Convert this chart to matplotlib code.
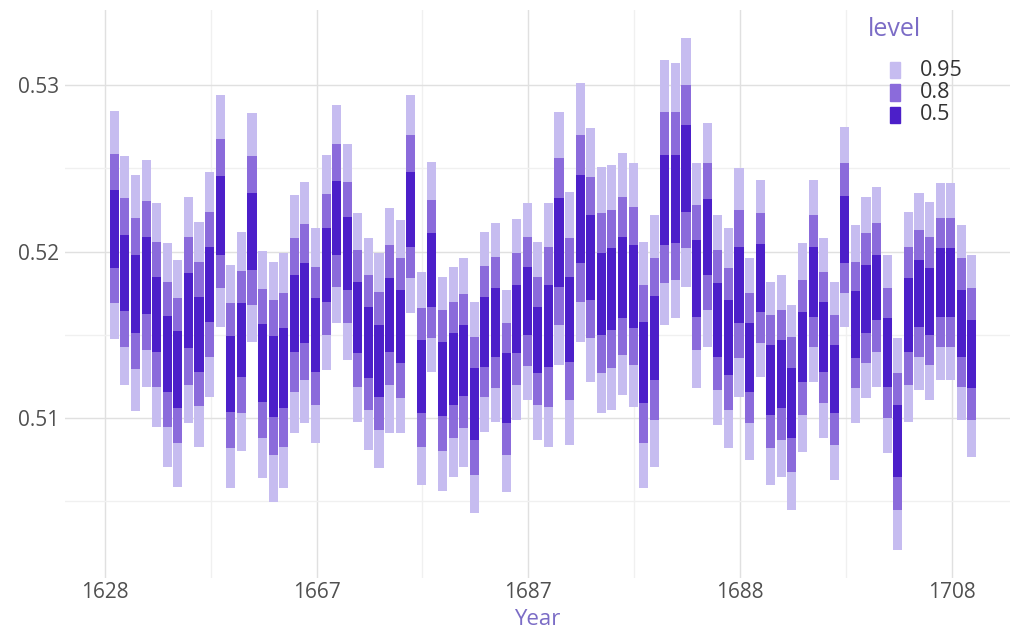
import matplotlib
matplotlib.use("Agg")
import matplotlib.pyplot as plt
from matplotlib.patches import Rectangle

# ---- data: interval bounds per bar (in plotting order) ----
lo95 = [0.51472,0.51198,0.51044,0.51188,0.50948,0.50708,0.50588,0.50968,0.50828,0.51128,
        0.51549,0.50578,0.50804,0.51458,0.50638,0.50498,0.50578,0.50908,0.50968,0.50848,
        0.51288,0.51569,0.51348,0.50978,0.50808,0.50698,0.50908,0.50908,0.51629,0.50598,
        0.51279,0.50564,0.50648,0.50708,0.50428,0.50918,0.50978,0.50558,0.50988,0.51108,
        0.50868,0.50828,0.51318,0.50838,0.51459,0.51218,0.51028,0.51048,0.51138,0.51068,
        0.50578,0.50708,0.51559,0.51599,0.51789,0.51178,0.51429,0.50958,0.50818,0.51128,
        0.50748,0.51248,0.50598,0.50648,0.50448,0.50798,0.51218,0.50878,0.50628,0.51549,
        0.50972,0.51118,0.51188,0.50788,0.50207,0.50978,0.51168,0.51108,0.51228,0.51228,
        0.50988,0.50768]
lo80 = [0.51693,0.51429,0.51292,0.51408,0.51188,0.50948,0.50848,0.51198,0.51072,0.51368,
        0.51779,0.50818,0.51028,0.51679,0.50878,0.50778,0.50828,0.51158,0.51228,0.51078,
        0.51499,0.51789,0.51569,0.51188,0.51048,0.50928,0.51198,0.51118,0.51839,0.50828,
        0.51479,0.50804,0.50878,0.50938,0.50658,0.51128,0.51178,0.50778,0.51198,0.51312,
        0.51078,0.51068,0.51559,0.51108,0.51699,0.51479,0.51268,0.51298,0.51378,0.51318,
        0.50848,0.50988,0.51809,0.51829,0.52019,0.51409,0.51649,0.51168,0.51048,0.51358,
        0.50968,0.51449,0.50818,0.50868,0.50678,0.51018,0.51428,0.51088,0.50838,0.51749,
        0.51178,0.51328,0.51398,0.50998,0.50448,0.51198,0.51368,0.51318,0.51428,0.51428,
        0.51188,0.50988]
lo50 = [0.51899,0.51645,0.51513,0.51625,0.51398,0.51158,0.51058,0.51418,0.51278,0.51579,
        0.51979,0.51038,0.51248,0.51889,0.51098,0.51008,0.51058,0.51398,0.51448,0.51278,
        0.51699,0.51979,0.51769,0.51388,0.51238,0.51128,0.51398,0.51328,0.52029,0.51028,
        0.51669,0.51012,0.51078,0.51132,0.50868,0.51308,0.51368,0.50972,0.51389,0.51499,
        0.51268,0.51308,0.51789,0.51338,0.51929,0.51709,0.51499,0.51529,0.51599,0.51539,
        0.51088,0.51228,0.52039,0.52049,0.52239,0.51609,0.51859,0.51368,0.51258,0.51569,
        0.51158,0.51639,0.51018,0.51058,0.50878,0.51218,0.51609,0.51278,0.51028,0.51929,
        0.51358,0.51509,0.51589,0.51188,0.50648,0.51398,0.51549,0.51499,0.51609,0.51609,
        0.51368,0.51178]
hi50 = [0.52369,0.52099,0.51979,0.52089,0.51849,0.51613,0.51525,0.51873,0.51729,0.52029,
        0.52453,0.51493,0.51693,0.52349,0.51565,0.51493,0.51539,0.51859,0.51933,0.51719,
        0.52139,0.52425,0.52209,0.51819,0.51669,0.51559,0.51839,0.51769,0.52480,0.51469,
        0.52113,0.51459,0.51509,0.51559,0.51298,0.51725,0.51779,0.51389,0.51799,0.51909,
        0.51669,0.51799,0.52319,0.51849,0.52460,0.52219,0.51989,0.52019,0.52089,0.52039,
        0.51579,0.51733,0.52580,0.52580,0.52760,0.52069,0.52313,0.51809,0.51709,0.52029,
        0.51569,0.52045,0.51439,0.51469,0.51299,0.51639,0.52029,0.51699,0.51439,0.52333,
        0.51765,0.51919,0.51979,0.51599,0.51078,0.51839,0.51949,0.51899,0.52019,0.52019,
        0.51769,0.51589]
hi80 = [0.52586,0.52319,0.52203,0.52305,0.52059,0.51819,0.51719,0.52085,0.51939,0.52239,
        0.52674,0.51693,0.51885,0.52574,0.51773,0.51709,0.51749,0.52079,0.52163,0.51909,
        0.52345,0.52646,0.52419,0.52009,0.51859,0.51759,0.52039,0.51959,0.52700,0.51659,
        0.52309,0.51649,0.51699,0.51745,0.51489,0.51913,0.51969,0.51569,0.51989,0.52089,
        0.51849,0.52029,0.52560,0.52079,0.52700,0.52450,0.52229,0.52249,0.52329,0.52269,
        0.51799,0.51959,0.52840,0.52840,0.53000,0.52279,0.52530,0.52009,0.51899,0.52249,
        0.51749,0.52229,0.51619,0.51649,0.51489,0.51829,0.52219,0.51879,0.51619,0.52530,
        0.51939,0.52109,0.52169,0.51779,0.51268,0.52029,0.52129,0.52089,0.52199,0.52199,
        0.51959,0.51779]
hi95 = [0.52846,0.52574,0.52459,0.52550,0.52289,0.52049,0.51949,0.52329,0.52179,0.52480,
        0.52940,0.51919,0.52119,0.52834,0.52005,0.51939,0.51989,0.52339,0.52419,0.52139,
        0.52580,0.52880,0.52646,0.52229,0.52079,0.51989,0.52259,0.52189,0.52940,0.51879,
        0.52540,0.51849,0.51909,0.51959,0.51699,0.52119,0.52169,0.51769,0.52193,0.52289,
        0.52059,0.52289,0.52840,0.52359,0.53010,0.52740,0.52510,0.52520,0.52590,0.52530,
        0.52059,0.52219,0.53150,0.53130,0.53282,0.52530,0.52770,0.52219,0.52139,0.52500,
        0.51959,0.52430,0.51819,0.51859,0.51679,0.52049,0.52430,0.52079,0.51819,0.52746,
        0.52159,0.52329,0.52389,0.51979,0.51479,0.52239,0.52349,0.52299,0.52409,0.52409,
        0.52159,0.51979]

tick_labels = ["1628", "1667", "1687", "1688", "1708"]
levels = ["0.95", "0.8", "0.5"]
level_colors = ["#c6bcf0", "#8b6bdb", "#4c1fc9"]

# ---- figure ----
W, H = 1021, 631
fig = plt.figure(figsize=(W / 100, H / 100), dpi=100)
left, right, top, bottom = 65, 1010, 10, 578
ax = fig.add_axes([left / W, 1 - bottom / H, (right - left) / W, (bottom - top) / H])

n = len(hi95)
x = list(range(n))
bw = 0.86
for lo, hi, col in [(lo95, hi95, level_colors[0]), (lo80, hi80, level_colors[1]), (lo50, hi50, level_colors[2])]:
    ax.bar(x, [h - l for h, l in zip(hi, lo)], bottom=lo, width=bw, color=col, linewidth=0, zorder=3)

major_pos = [-0.9, 19.1, 39.1, 59.1, 79.1]
minor_pos = [9.1, 29.1, 49.1, 69.1]
ax.set_xticks(major_pos)
ax.set_xticklabels(tick_labels)
ax.set_xticks(minor_pos, minor=True)
ax.set_yticks([0.51, 0.52, 0.53])
ax.set_yticklabels(["0.51", "0.52", "0.53"])
ax.set_yticks([0.505, 0.515, 0.525], minor=True)
ax.set_xlim(-4.66, 84.6)
ax.set_ylim(0.5004, 0.5345)

ax.grid(which="major", color="#e0e0e0", linewidth=1.0, zorder=0)
ax.grid(which="minor", color="#f0f0f0", linewidth=1.0, zorder=0)
for s in ax.spines.values():
    s.set_visible(False)
ax.tick_params(which="both", length=0)
ax.tick_params(axis="both", labelsize=15, labelcolor="#505050", labelfontfamily="Open Sans")
ax.tick_params(axis="x", pad=3)
ax.tick_params(axis="y", pad=4)
ax.set_xlabel("Year", fontsize=16, color="#7b6cc6", labelpad=4, family="Open Sans")

# legend
fig.text(868 / W, 1 - 29 / H, "level", fontsize=18, color="#7b6cc6", family="Open Sans", va="center", ha="left")
for i, (lab, col) in enumerate(zip(levels, level_colors)):
    yc = 70 + i * 22.5
    fig.patches.append(Rectangle((890 / W, 1 - (yc + 8) / H), 10 / W, 16 / H,
                                 transform=fig.transFigure, color=col, figure=fig))
    fig.text(920 / W, 1 - yc / H, lab, fontsize=15.5, color="#333333", family="Open Sans", va="center", ha="left")

fig.savefig("out.png", dpi=100)
